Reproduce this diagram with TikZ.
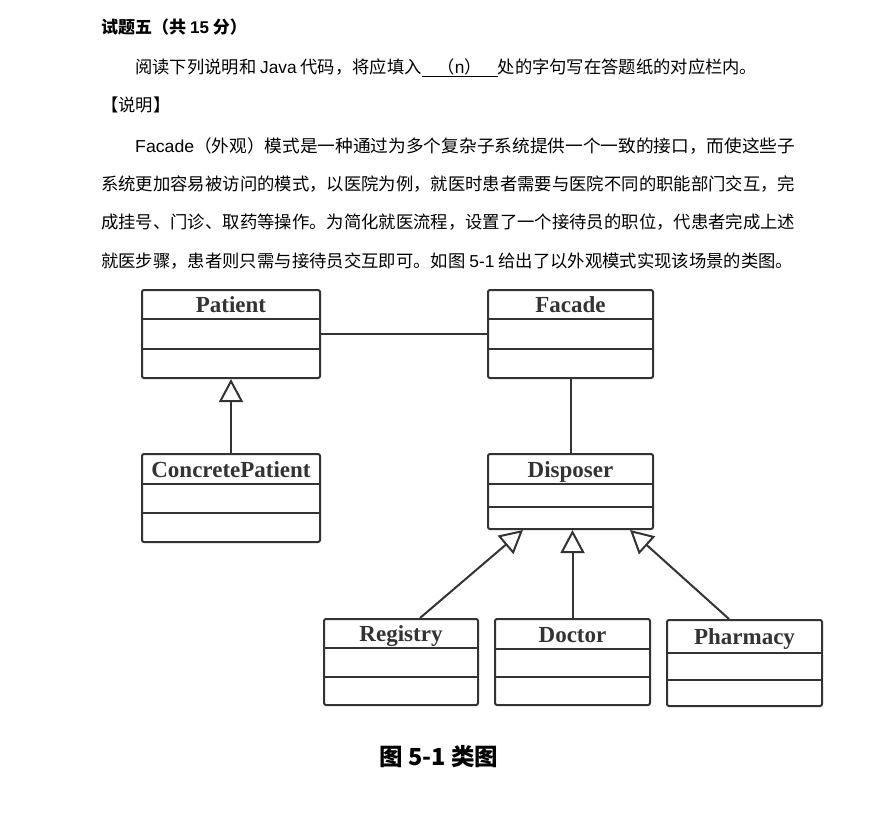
\documentclass[tikz,border=0pt]{standalone}
\usepackage{fontspec}
\setmainfont{Liberation Sans}
\newfontfamily\cjk{Noto Sans CJK SC}
\newfontfamily\tnr{Liberation Serif}
\usepackage{graphicx}
\usepackage{xcolor}
\usetikzlibrary{arrows.meta, calc, positioning}

\newcommand{\ltn}[1]{{\rmfamily #1}}
% one text line stretched to a given width
\newcommand{\fitline}[2]{\resizebox{#1}{\height}{#2}}
% name, left, top, right, bottom, divider 1, divider 2, title
\newcommand{\umlclass}[8]{%
    \node[classbox, minimum width={#4-#2}, minimum height={#5-#3}] (#1) at ({(#2+#4)/2}, {(#3+#5)/2}) {};
    \draw[classline] (#2, #6) -- (#4, #6);
    \draw[classline] (#2, #7) -- (#4, #7);
    \node[classname] (#1-title) at ({(#2+#4)/2}, {(#3+#6)/2+8}) {#8};
}

\begin{document}
\begin{tikzpicture}[x=1pt, y=-1pt,
    bodytext/.style={anchor=west, inner sep=0pt, font=\cjk\fontsize{17.3pt}{20pt}\selectfont},
    classbox/.style={draw=classgray, line width=2pt, rounded corners=2pt, inner sep=0pt},
    classline/.style={draw=classgray, line width=2pt},
    classname/.style={anchor=base, inner sep=0pt, text=classgray, font=\tnr\bfseries\fontsize{23pt}{26pt}\selectfont},
    assoc/.style={draw=classgray, line width=2pt},
    inherit/.style={draw=classgray, line width=2pt, -{Triangle[open, length=23pt, width=24pt, line width=2pt, fill=white]}}]
    \definecolor{classgray}{RGB}{51, 51, 51}
    \useasboundingbox (0, 0) rectangle (888, 820);

    % 1. Heading and text
    \node[bodytext, font=\cjk\bfseries\fontsize{17pt}{20pt}\selectfont] (head) at (101, 27) {试题五（共 \ltn{\bfseries 15} 分）};
    \node[bodytext] (intro) at (135, 68) {\fitline{622pt}{阅读下列说明和 \ltn{Java} 代码，将应填入\underline{\makebox[76pt]{（\ltn{n}）}}处的字句写在答题纸的对应栏内。}};
    \node[bodytext] (note) at (101, 105) {【说明】};
    \node[bodytext] (line1) at (135, 146) {\fitline{660pt}{\ltn{Facade}（外观）模式是一种通过为多个复杂子系统提供一个一致的接口，而使这些子}};
    \node[bodytext] (line2) at (101, 184) {\fitline{694pt}{系统更加容易被访问的模式，以医院为例，就医时患者需要与医院不同的职能部门交互，完}};
    \node[bodytext] (line3) at (101, 222) {\fitline{694pt}{成挂号、门诊、取药等操作。为简化就医流程，设置了一个接待员的职位，代患者完成上述}};
    \node[bodytext] (line4) at (101, 261) {\fitline{692pt}{就医步骤，患者则只需与接待员交互即可。如图 \ltn{5-1} 给出了以外观模式实现该场景的类图。}};

    % 2. Classes
    \umlclass{Patient}{142}{290}{320}{378}{319}{349}{Patient}
    \umlclass{Facade}{488}{290}{653}{378}{319}{349}{Facade}
    \umlclass{ConcretePatient}{142}{454}{320}{542}{484}{513}{ConcretePatient}
    \umlclass{Disposer}{488}{454}{653}{529}{484}{507}{Disposer}
    \umlclass{Registry}{324}{619}{478}{705}{648}{677}{Registry}
    \umlclass{Doctor}{495}{619}{650}{705}{649}{677}{Doctor}
    \umlclass{Pharmacy}{667}{620}{822}{706}{653}{680}{Pharmacy}

    % 3. Associations
    \draw[assoc] (Patient.east) -- (Facade.west);
    \draw[assoc] (Facade.south) -- (Disposer.north);

    % 4. Generalisations
    \draw[inherit] (ConcretePatient.north) -- (Patient.south);
    \draw[inherit] ($(Registry.north)+(19, 0)$) -- ($(Disposer.south)+(-47.5, 0)$);
    \draw[inherit] (Doctor.north) -- (Doctor.north |- Disposer.south);
    \draw[inherit] ($(Pharmacy.north)+(-15.5, 0)$) -- ($(Disposer.south)+(59.5, 0)$);

    % 5. Caption
    \node[inner sep=0pt, font=\cjk\bfseries\fontsize{23.5pt}{27pt}\selectfont] (caption) at (439, 757) {图 5-1 类图};
\end{tikzpicture}
\end{document}
